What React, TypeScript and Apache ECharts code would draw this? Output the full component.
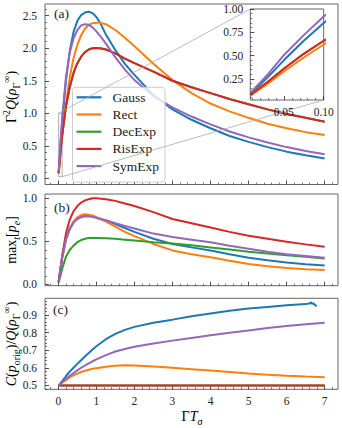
import React, { useEffect, useRef } from 'react';
import * as echarts from 'echarts';

const names = ['Gauss', 'Rect', 'DecExp', 'RisExp', 'SymExp'];
const colors = ['#1f77b4', '#ff7f0e', '#2ca02c', '#d62728', '#9467bd'];

// ---------- panel (a): Γ²Q(ρ) ----------
const xA = [0.008, 0.03, 0.05, 0.075, 0.1, 0.2, 0.3, 0.4, 0.5, 0.6, 0.7, 0.8, 0.9, 1.0, 1.1, 1.25, 1.5, 1.75, 2.0, 2.5, 3.0, 3.5, 4.0, 4.5, 5.0, 5.5, 6.0, 6.5, 7.0];
const gaussA = [0.09, 0.27, 0.45, 0.66, 0.85, 1.5, 1.95, 2.25, 2.42, 2.51, 2.55, 2.56, 2.54, 2.48, 2.39, 2.21, 1.97, 1.76, 1.59, 1.28, 1.06, 0.9, 0.77, 0.65, 0.56, 0.48, 0.41, 0.355, 0.306];
const rectA = [0.07, 0.2, 0.33, 0.48, 0.62, 1.15, 1.55, 1.85, 2.05, 2.2, 2.3, 2.36, 2.385, 2.39, 2.39, 2.37, 2.28, 2.16, 2.03, 1.76, 1.51, 1.31, 1.15, 1.03, 0.93, 0.84, 0.77, 0.71, 0.665];
const risExpA = [0.08, 0.22, 0.36, 0.52, 0.66, 1.1, 1.4, 1.62, 1.77, 1.87, 1.94, 1.98, 2.0, 2.005, 2.0, 1.98, 1.92, 1.84, 1.77, 1.64, 1.5, 1.4, 1.31, 1.22, 1.14, 1.06, 0.99, 0.93, 0.87];
// DecExp coincides with RisExp in (a)
const decExpA = [0.08, 0.22, 0.36, 0.52, 0.66, 1.1, 1.4, 1.62, 1.77, 1.87, 1.94, 1.98, 2.0, 2.005, 2.0, 1.98, 1.92, 1.84, 1.77, 1.64, 1.5, 1.4, 1.31, 1.22, 1.14, 1.06, 0.99, 0.93, 0.87];
const symExpA = [0.1, 0.3, 0.505, 0.72, 0.92, 1.55, 1.93, 2.15, 2.28, 2.35, 2.37, 2.36, 2.32, 2.26, 2.19, 2.07, 1.86, 1.67, 1.51, 1.26, 1.09, 0.95, 0.83, 0.72, 0.63, 0.55, 0.48, 0.42, 0.37];

// ---------- panel (b): max_t[p_e] ----------
const xB = [0.008, 0.1, 0.2, 0.3, 0.4, 0.5, 0.6, 0.7, 0.8, 0.9, 1.0, 1.25, 1.5, 1.75, 2.0, 2.5, 3.0, 3.5, 4.0, 4.5, 5.0, 5.5, 6.0, 6.5, 7.0];
const gaussB = [0.03, 0.3, 0.52, 0.64, 0.72, 0.77, 0.795, 0.8, 0.8, 0.79, 0.775, 0.74, 0.7, 0.655, 0.61, 0.53, 0.47, 0.43, 0.395, 0.35, 0.31, 0.28, 0.255, 0.235, 0.22];
const rectB = [0.03, 0.3, 0.52, 0.65, 0.73, 0.78, 0.805, 0.815, 0.81, 0.8, 0.78, 0.73, 0.67, 0.61, 0.56, 0.47, 0.395, 0.35, 0.315, 0.275, 0.236, 0.21, 0.19, 0.175, 0.166];
const decExpB = [0.02, 0.18, 0.32, 0.4, 0.45, 0.49, 0.515, 0.53, 0.54, 0.54, 0.54, 0.535, 0.53, 0.52, 0.51, 0.49, 0.475, 0.455, 0.43, 0.405, 0.38, 0.36, 0.34, 0.32, 0.3];
const risExpB = [0.03, 0.33, 0.59, 0.75, 0.85, 0.91, 0.95, 0.975, 0.99, 1.0, 1.0, 0.99, 0.97, 0.94, 0.91, 0.84, 0.76, 0.71, 0.66, 0.61, 0.565, 0.53, 0.495, 0.465, 0.437];
const symExpB = [0.03, 0.32, 0.53, 0.65, 0.72, 0.76, 0.78, 0.79, 0.79, 0.785, 0.775, 0.745, 0.71, 0.68, 0.65, 0.59, 0.55, 0.52, 0.49, 0.45, 0.415, 0.38, 0.35, 0.33, 0.31];

// ---------- panel (c): C(p_orig)/Q(ρ) ----------
const xC = [0.008, 0.1, 0.2, 0.3, 0.4, 0.5, 0.6, 0.7, 0.8, 0.9, 1.0, 1.25, 1.5, 1.75, 2.0, 2.5, 3.0, 3.5, 4.0, 4.5, 5.0, 5.5, 6.0, 6.5, 7.0];
const xGaussC = [0.008, 0.1, 0.2, 0.3, 0.4, 0.5, 0.6, 0.7, 0.8, 0.9, 1.0, 1.25, 1.5, 1.75, 2.0, 2.5, 3.0, 3.5, 4.0, 4.5, 5.0, 5.5, 6.0, 6.5, 6.6, 6.64, 6.67, 6.7, 6.74, 6.79];
const gaussC = [0.5, 0.525, 0.552, 0.578, 0.6, 0.622, 0.643, 0.664, 0.684, 0.704, 0.722, 0.762, 0.792, 0.815, 0.832, 0.855, 0.873, 0.892, 0.908, 0.923, 0.936, 0.945, 0.954, 0.961, 0.964, 0.971, 0.962, 0.966, 0.957, 0.95];
const rectC = [0.5, 0.515, 0.53, 0.545, 0.557, 0.567, 0.576, 0.583, 0.589, 0.594, 0.598, 0.606, 0.612, 0.614, 0.613, 0.607, 0.6, 0.592, 0.584, 0.576, 0.568, 0.561, 0.555, 0.55, 0.547];
const decExpC = [0.5, 0.5, 0.5, 0.5, 0.5, 0.5, 0.5, 0.5, 0.5, 0.5, 0.5, 0.5, 0.5, 0.5, 0.5, 0.5, 0.5, 0.5, 0.5, 0.5, 0.5, 0.5, 0.5, 0.5, 0.5];
const risExpC = [0.5, 0.5, 0.5, 0.5, 0.5, 0.5, 0.5, 0.5, 0.5, 0.5, 0.5, 0.5, 0.5, 0.5, 0.5, 0.5, 0.5, 0.5, 0.5, 0.5, 0.5, 0.5, 0.5, 0.5, 0.5];
const symExpC = [0.5, 0.518, 0.536, 0.554, 0.57, 0.585, 0.6, 0.613, 0.625, 0.637, 0.648, 0.672, 0.692, 0.707, 0.719, 0.738, 0.754, 0.769, 0.784, 0.799, 0.812, 0.825, 0.837, 0.847, 0.856];

// ---------- ticks ----------
const xMajor = [0, 1, 2, 3, 4, 5, 6, 7];
const xMinor = [-0.2, 0.2, 0.4, 0.6, 0.8, 1.2, 1.4, 1.6, 1.8, 2.2, 2.4, 2.6, 2.8, 3.2, 3.4, 3.6, 3.8, 4.2, 4.4, 4.6, 4.8, 5.2, 5.4, 5.6, 5.8, 6.2, 6.4, 6.6, 6.8, 7.2];
const yMajorA = [0, 0.5, 1.0, 1.5, 2.0, 2.5];
const yMinorA = [0.1, 0.2, 0.3, 0.4, 0.6, 0.7, 0.8, 0.9, 1.1, 1.2, 1.3, 1.4, 1.6, 1.7, 1.8, 1.9, 2.1, 2.2, 2.3, 2.4, 2.6];
const yMajorB = [0, 0.5, 1.0];
const yMinorB = [0.1, 0.2, 0.3, 0.4, 0.6, 0.7, 0.8, 0.9];
const yMajorC = [0.5, 0.6, 0.7, 0.8, 0.9];
const yMinorC = [0.48, 0.52, 0.54, 0.56, 0.58, 0.62, 0.64, 0.66, 0.68, 0.72, 0.74, 0.76, 0.78, 0.82, 0.84, 0.86, 0.88, 0.92, 0.94, 0.96, 0.98];
const xMajorI = [0.05, 0.1];
const xMinorI = [0.01, 0.02, 0.03, 0.04, 0.06, 0.07, 0.08, 0.09];
const yMajorI = [0.25, 0.5, 0.75, 1.0];
const yMinorI = [0.05, 0.1, 0.15, 0.2, 0.3, 0.35, 0.4, 0.45, 0.55, 0.6, 0.65, 0.7, 0.8, 0.85, 0.9, 0.95];

// inset zoom window (data coords)
const insetX = [0.008, 0.1];
const insetY = [0.025, 1.0];

const FONT = 'Liberation Serif';
const FRAME = '#666';
const TICK = '#222';

const grids = [
  { left: 45, top: 4, width: 293, height: 180.5 },
  { left: 45, top: 194, width: 293, height: 91.7 },
  { left: 45, top: 298.3, width: 293, height: 91 },
  { left: 250.3, top: 9, width: 73.4, height: 91 },
];

function axisPair(dim: 'x' | 'y', g: number, min: number, max: number, major: number[], minor: number[], showLabel: boolean, fmt: (v: number) => string, margin: number) {
  const base = {
    type: 'value',
    gridIndex: g,
    min,
    max,
    z: g === 3 ? 8 : 0,
    position: dim === 'x' ? 'bottom' : 'left',
    axisLine: { show: false, onZero: false },
    splitLine: { show: false },
    minorTick: { show: false },
  };
  return [
    {
      ...base,
      axisTick: { show: true, inside: true, length: 4, customValues: major, lineStyle: { color: TICK, width: 0.8 } },
      axisLabel: { show: showLabel, customValues: major, formatter: fmt, fontFamily: FONT, fontSize: 11.5, color: '#222', margin },
    },
    {
      ...base,
      axisTick: { show: true, inside: true, length: 2, customValues: minor, lineStyle: { color: TICK, width: 0.6 } },
      axisLabel: { show: false },
    },
  ];
}

const f1 = (v: number) => v.toFixed(1);
const f0 = (v: number) => String(v);
const f2 = (v: number) => v.toFixed(2);

const xAxes = [
  ...axisPair('x', 0, -0.35, 7.35, xMajor, xMinor, false, f0, 6),
  ...axisPair('x', 1, -0.35, 7.35, xMajor, xMinor, false, f0, 6),
  ...axisPair('x', 2, -0.35, 7.35, xMajor, xMinor, true, f0, 6),
  ...axisPair('x', 3, insetX[0], insetX[1], xMajorI, xMinorI, true, f2, 6),
];
const yAxes = [
  ...axisPair('y', 0, -0.095, 2.68, yMajorA, yMinorA, true, f1, 8),
  ...axisPair('y', 1, -0.015, 1.05, yMajorB, yMinorB, true, f1, 8),
  ...axisPair('y', 2, 0.478, 0.994, yMajorC, yMinorC, true, f1, 8),
  ...axisPair('y', 3, insetY[0], insetY[1], yMajorI, yMinorI, true, f2, 7),
];

const pairs = (xs: number[], ys: number[]) => xs.map((x, i) => [x, ys[i]]);

const panelData = [
  [pairs(xA, gaussA), pairs(xA, rectA), pairs(xA, decExpA), pairs(xA, risExpA), pairs(xA, symExpA)],
  [pairs(xB, gaussB), pairs(xB, rectB), pairs(xB, decExpB), pairs(xB, risExpB), pairs(xB, symExpB)],
  [pairs(xGaussC, gaussC), pairs(xC, rectC), pairs(xC, decExpC), pairs(xC, risExpC), pairs(xC, symExpC)],
  [pairs(xA, gaussA), pairs(xA, rectA), pairs(xA, decExpA), pairs(xA, risExpA), pairs(xA, symExpA)],
];

const series: any[] = [];
panelData.forEach((panel, g) => {
  panel.forEach((data, k) => {
    const s: any = {
      type: 'line',
      name: names[k],
      xAxisIndex: 2 * g,
      yAxisIndex: 2 * g,
      data,
      symbol: 'none',
      showSymbol: false,
      clip: true,
      color: colors[k],
      itemStyle: { color: colors[k] },
      lineStyle: { color: colors[k], width: 2 },
      z: g === 3 ? 6 : 2,
    };
    if (g === 0 && k === 0) {
      s.markArea = {
        silent: true,
        itemStyle: { color: 'rgba(0,0,0,0)', borderColor: '#999', borderWidth: 0.8 },
        data: [[{ coord: [insetX[0], insetY[0]] }, { coord: [insetX[1], insetY[1]] }]],
      };
      s.markLine = {
        silent: true,
        symbol: ['none', 'none'],
        label: { show: false },
        lineStyle: { color: '#aaa', width: 0.8, type: 'solid' },
        data: [
          [{ coord: [insetX[0], insetY[1]] }, { x: grids[3].left, y: grids[3].top }],
          [{ coord: [insetX[1], insetY[0]] }, { x: grids[3].left + grids[3].width, y: grids[3].top + grids[3].height }],
        ],
      };
    }
    series.push(s);
  });
});

const rich = {
  n: { fontFamily: FONT, fontSize: 14, lineHeight: 20, color: '#222' },
  i: { fontFamily: FONT, fontSize: 14, lineHeight: 20, fontStyle: 'italic', color: '#222' },
  sup: { fontFamily: FONT, fontSize: 10, lineHeight: 11, verticalAlign: 'top', color: '#222' },
  sub: { fontFamily: FONT, fontSize: 10, lineHeight: 11, verticalAlign: 'bottom', color: '#222' },
  subi: { fontFamily: FONT, fontSize: 10, lineHeight: 11, verticalAlign: 'bottom', fontStyle: 'italic', color: '#222' },
};

function yTitle(x: number, y: number, text: string) {
  return {
    type: 'text',
    x,
    y,
    rotation: Math.PI / 2,
    silent: true,
    style: { text, rich, align: 'center', verticalAlign: 'middle', fontFamily: FONT, fontSize: 14 },
  };
}

function panelLabel(x: number, y: number, text: string) {
  return {
    type: 'text',
    x,
    y,
    silent: true,
    z: 10,
    style: { text, fontFamily: FONT, fontSize: 13.5, fill: '#222', align: 'left', verticalAlign: 'middle' },
  };
}

const option: any = {
  animation: false,
  backgroundColor: '#fff',
  textStyle: { fontFamily: FONT },
  grid: grids.map((g, i) => ({ ...g, show: true, borderColor: FRAME, borderWidth: 1, backgroundColor: i === 3 ? '#fff' : 'transparent', z: i === 3 ? 4 : 0 })),
  xAxis: xAxes,
  yAxis: yAxes,
  legend: {
    data: names,
    orient: 'vertical',
    left: 72.5,
    top: 87.3,
    icon: 'rect',
    itemWidth: 25,
    itemHeight: 2.2,
    itemGap: 3.2,
    padding: [3, 6, 9, 4],
    backgroundColor: 'rgba(255,255,255,0.8)',
    borderColor: '#ccc',
    borderWidth: 1,
    borderRadius: 3,
    selectedMode: false,
    textStyle: { fontFamily: FONT, fontSize: 13.5, color: '#222', lineHeight: 14, padding: [0, 0, 0, 6] },
  },
  graphic: [
    yTitle(11, 97, '{n|Γ}{sup|2}{i|Q}{n|(}{i|ρ}{sub|Γ}{sup|∞}{n|)}'),
    yTitle(11, 240, '{n|max}{subi|t}{n|[}{i|p}{subi|e}{n|]}'),
    yTitle(11, 344, '{i|C}{n|(}{i|p}{sub|orig}{n|)/}{i|Q}{n|(}{i|ρ}{sub|Γ}{sup|∞}{n|)}'),
    {
      type: 'text',
      x: 192,
      y: 416.5,
      silent: true,
      style: { text: '{n|Γ}{i|T}{subi|σ}', rich, align: 'center', verticalAlign: 'middle', fontFamily: FONT, fontSize: 14 },
    },
    panelLabel(54, 13, '(a)'),
    panelLabel(54, 207, '(b)'),
    panelLabel(53, 309, '(c)'),
  ],
  series,
};

export default function App() {
  const ref = useRef<HTMLDivElement>(null);
  useEffect(() => {
    const chart = echarts.init(ref.current!, null, { renderer: 'svg' });
    chart.setOption(option);
    return () => chart.dispose();
  }, []);
  return <div ref={ref} style={{ position: 'fixed', left: 0, top: 0, width: 342, height: 428 }} />;
}
